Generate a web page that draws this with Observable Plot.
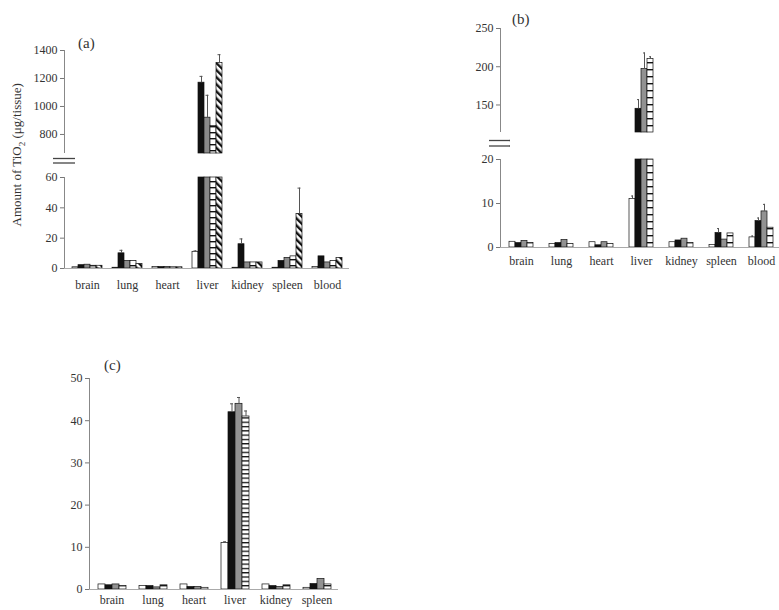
<!DOCTYPE html>
<html><head><meta charset="utf-8">
<script src="https://cdn.jsdelivr.net/npm/d3@7"></script>
<script src="https://cdn.jsdelivr.net/npm/@observablehq/plot@0.6"></script>
<style>
body{margin:0;background:#fff;}
#root{position:relative;width:779px;height:610px;overflow:hidden;font-family:"Liberation Serif","DejaVu Serif",serif;color:#333;}
#root svg.pp{position:absolute;left:0;}
.lbl{position:absolute;font-size:15px;color:#333;white-space:nowrap;}
</style></head><body><div id="root">
<svg width="0" height="0" style="position:absolute;left:0;top:0">
<defs>
<pattern id="hsA" patternUnits="userSpaceOnUse" width="8" height="6"><rect width="8" height="6" fill="#fff"/><rect x="0" y="0" width="8" height="1.4" fill="#111"/></pattern>
<pattern id="hsB" patternUnits="userSpaceOnUse" width="8" height="7"><rect width="8" height="7" fill="#fff"/><rect x="0" y="0" width="8" height="1.4" fill="#111"/></pattern>
<pattern id="hsC" patternUnits="userSpaceOnUse" width="8" height="4.3"><rect width="8" height="4.3" fill="#fff"/><rect x="0" y="0" width="8" height="1.3" fill="#111"/></pattern>
<pattern id="dg" patternUnits="userSpaceOnUse" width="5" height="5" patternTransform="rotate(-45)"><rect width="5" height="5" fill="#fff"/><rect width="2.4" height="5" fill="#111"/></pattern>
</defs></svg>
<svg class="brk" width="779" height="610" style="position:absolute;left:0;top:0">
<g stroke="#444" stroke-width="1.3">
<line x1="53" x2="75" y1="158.5" y2="158.5"/><line x1="53" x2="75" y1="163" y2="163"/>
<line x1="489" x2="510" y1="140.5" y2="140.5"/><line x1="489" x2="510" y1="146" y2="146"/>
</g></svg>
<div class="lbl" style="left:78px;top:35px">(a)</div>
<div class="lbl" style="left:512px;top:11px">(b)</div>
<div class="lbl" style="left:104px;top:357px">(c)</div>
<div class="lbl" style="left:-82px;top:146px;width:200px;text-align:center;transform:rotate(-90deg);font-size:13px">Amount of TiO<sub style="font-size:9px">2</sub> (μg/tissue)</div>
</div>
<script>
// ---------- Panel (a) ----------
const organsA = ["brain", "lung", "heart", "liver", "kidney", "spleen", "blood"];
const seriesA = ["white", "black", "gray", "hstripe", "diag"];
const aWhite   = [0.8, 0.5, 1.0, 11, 0.5, 0.5, 1.0];
const aBlack   = [2.2, 10, 1.0, 1170, 16, 5, 8];
const aGray    = [2.5, 5, 1.0, 920, 4, 7, 4];
const aHstripe = [1.8, 5, 0.8, 860, 4, 8, 5];
const aDiag    = [1.8, 3, 0.8, 1310, 4, 36, 7];
const aWhiteErr   = [null, null, null, 0.6, null, null, null];
const aBlackErr   = [null, 2, null, 45, 3.5, null, null];
const aGrayErr    = [null, null, null, 160, null, null, null];
const aHstripeErr = [null, null, null, null, null, null, null];
const aDiagErr    = [null, null, null, 60, null, 17, null];
const aUpperDomain = [664, 1400];
const aLowerDomain = [0, 60];
const aUpperTicks = [800, 1000, 1200, 1400];
const aLowerTicks = [0, 20, 40, 60];

// ---------- Panel (b) ----------
const organsB = ["brain", "lung", "heart", "liver", "kidney", "spleen", "blood"];
const seriesB = ["white", "black", "gray", "hstripe"];
const bWhite   = [1.3, 0.8, 1.2, 11, 1.2, 0.6, 2.3];
const bBlack   = [1.0, 1.0, 0.5, 145, 1.6, 3.3, 6.0];
const bGray    = [1.5, 1.7, 1.2, 197, 2.0, 1.8, 8.2];
const bHstripe = [1.0, 0.8, 0.8, 210, 1.0, 3.2, 4.5];
const bWhiteErr   = [null, null, null, 0.7, null, null, 0.3];
const bBlackErr   = [null, null, null, 12, null, 1.0, 0.7];
const bGrayErr    = [null, null, null, 21, null, null, 1.6];
const bHstripeErr = [null, null, null, 3, null, null, null];
const bUpperDomain = [114, 250];
const bLowerDomain = [0, 20];
const bUpperTicks = [150, 200, 250];
const bLowerTicks = [0, 10, 20];

// ---------- Panel (c) ----------
const organsC = ["brain", "lung", "heart", "liver", "kidney", "spleen"];
const seriesC = ["white", "black", "gray", "hstripe"];
const cWhite   = [1.2, 0.8, 1.2, 11, 1.2, 0.4];
const cBlack   = [1.0, 0.8, 0.6, 42, 0.8, 1.3];
const cGray    = [1.2, 0.5, 0.6, 44, 0.6, 2.5];
const cHstripe = [0.8, 1.0, 0.4, 41, 1.0, 1.2];
const cWhiteErr   = [null, null, null, 0.3, null, null];
const cBlackErr   = [null, null, null, 2, null, null];
const cGrayErr    = [null, null, null, 1.5, null, null];
const cHstripeErr = [null, null, null, 1.3, null, null];
const cDomain = [0, 50];
const cTicks = [0, 10, 20, 30, 40, 50];

function table(organs, series, vals, errs) {
  const rows = [];
  organs.forEach((o, i) => series.forEach((s, j) => rows.push({organ: o, series: s, value: vals[j][i], err: errs[j][i]})));
  return rows;
}
const tableA = table(organsA, seriesA, [aWhite, aBlack, aGray, aHstripe, aDiag], [aWhiteErr, aBlackErr, aGrayErr, aHstripeErr, aDiagErr]);
const tableB = table(organsB, seriesB, [bWhite, bBlack, bGray, bHstripe], [bWhiteErr, bBlackErr, bGrayErr, bHstripeErr]);
const tableC = table(organsC, seriesC, [cWhite, cBlack, cGray, cHstripe], [cWhiteErr, cBlackErr, cGrayErr, cHstripeErr]);

const root = document.getElementById("root");
const baseStyle = {background: "none", overflow: "visible", maxWidth: "none", fontFamily: "'Liberation Serif', serif", fontSize: "12px", color: "#333"};

function segment(cfg) {
  const {organs, series, rows, fills, dom, ticks, x0, x1, yTop, yBot, labels, po, cap, lp} = cfg;
  const W = 800, mt = 8, mb = labels ? 32 : 4;
  const common = {width: W, height: yBot - yTop + mt + mb, marginLeft: x0, marginRight: W - x1, marginTop: mt, marginBottom: mb, style: baseStyle};
  const bars = rows.filter(d => d.value > dom[0]).map(d => ({...d, fill: fills[d.series]}));
  const errs = rows.filter(d => d.err != null && d.value >= dom[0] && d.value + d.err <= dom[1]);
  const p1 = Plot.plot({
    ...common,
    fx: {domain: organs, padding: 0, axis: labels ? "bottom" : null, tickSize: 0, tickPadding: lp || 10, label: null},
    x: {domain: series, paddingInner: 0, paddingOuter: po, axis: null},
    y: {domain: dom, axis: null},
    color: {type: "identity"},
    marks: [
      Plot.barY(bars, {fx: "organ", x: "series", y1: dom[0], y2: d => Math.min(d.value, dom[1]), fill: "fill", stroke: "#111", strokeWidth: 0.7, insetLeft: 0, insetRight: 0}),
      Plot.ruleX(errs, {fx: "organ", x: "series", y1: "value", y2: d => d.value + d.err, stroke: "#555", strokeWidth: 1}),
      Plot.tickY(errs, {fx: "organ", x: "series", y: d => d.value + d.err, stroke: "#555", strokeWidth: 1, insetLeft: cap, insetRight: cap})
    ]
  });
  const p2 = Plot.plot({
    ...common,
    x: {domain: [0, 1], axis: null},
    y: {domain: dom, axis: null},
    marks: [
      Plot.axisY({ticks, tickFormat: "d", tickSize: 4, tickPadding: 3, label: null, stroke: "#777"}),
      Plot.ruleX([0], {stroke: "#888", strokeWidth: 1}),
      labels ? Plot.ruleY([dom[0]], {stroke: "#aaa", strokeWidth: 1}) : null
    ]
  });
  for (const p of [p1, p2]) {
    p.classList.add("pp");
    p.style.top = (yTop - mt) + "px";
    root.appendChild(p);
  }
}

const fillsA = {white: "#fff", black: "#111", gray: "#8a8a8a", hstripe: "url(#hsA)", diag: "url(#dg)"};
const fillsB = {white: "#fff", black: "#111", gray: "#929292", hstripe: "url(#hsB)"};
const fillsC = {white: "#fff", black: "#111", gray: "#929292", hstripe: "url(#hsC)"};

segment({organs: organsA, series: seriesA, rows: tableA, fills: fillsA, dom: aUpperDomain, ticks: aUpperTicks, x0: 64, x1: 349, yTop: 50, yBot: 153, labels: false, po: 0.75, cap: 1.5});
segment({organs: organsA, series: seriesA, rows: tableA, fills: fillsA, dom: aLowerDomain, ticks: aLowerTicks, x0: 64, x1: 349, yTop: 177, yBot: 268, labels: true, po: 0.75, cap: 1.5, lp: 12});
segment({organs: organsB, series: seriesB, rows: tableB, fills: fillsB, dom: bUpperDomain, ticks: bUpperTicks, x0: 500, x1: 781, yTop: 28, yBot: 132, labels: false, po: 0.86, cap: 2});
segment({organs: organsB, series: seriesB, rows: tableB, fills: fillsB, dom: bLowerDomain, ticks: bLowerTicks, x0: 500, x1: 781, yTop: 159, yBot: 247, labels: true, po: 0.86, cap: 2, lp: 9});
segment({organs: organsC, series: seriesC, rows: tableC, fills: fillsC, dom: cDomain, ticks: cTicks, x0: 89, x1: 338, yTop: 378, yBot: 589, labels: true, po: 0.6, cap: 2, lp: 6});
</script>
</body></html>
